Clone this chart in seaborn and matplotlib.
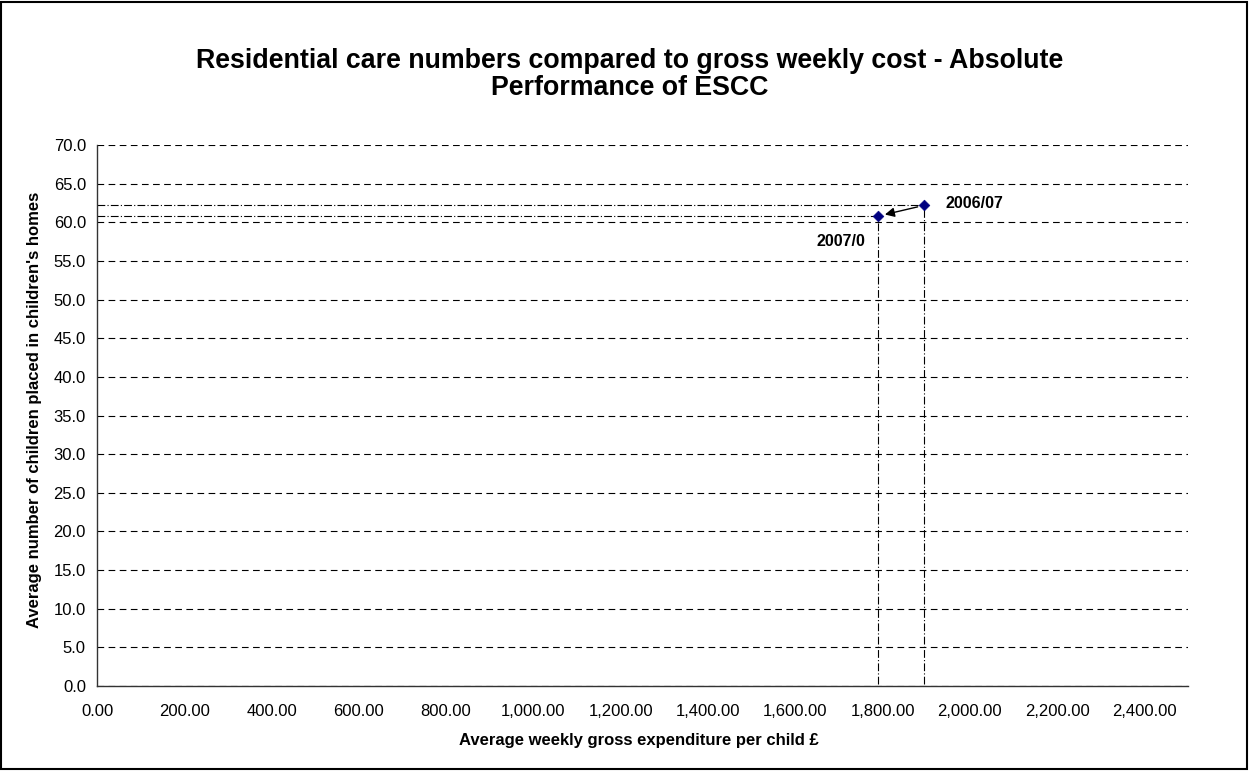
import matplotlib
matplotlib.use("Agg")
import matplotlib.pyplot as plt
import matplotlib.patches as patches
from matplotlib.ticker import FuncFormatter, MultipleLocator
import seaborn as sns
import pandas as pd

# Dados
anos = ["2006/07", "2007/08"]
custo_semanal = [1896, 1790]
num_criancas = [62.2, 60.8]
rotulos = ["2006/07", "2007/0"]

TITULO_1 = "Residential care numbers compared to gross weekly cost - Absolute"
TITULO_2 = "Performance of ESCC"
XLABEL = "Average weekly gross expenditure per child £"
YLABEL = "Average number of children placed in children's homes"

sns.set_style("white")
plt.rcParams["font.family"] = ["Liberation Sans", "DejaVu Sans"]
plt.rcParams["text.color"] = "black"
plt.rcParams["axes.labelcolor"] = "black"
plt.rcParams["xtick.color"] = "black"
plt.rcParams["ytick.color"] = "black"

df = pd.DataFrame({"ano": anos, "custo": custo_semanal, "num": num_criancas})

fig = plt.figure(figsize=(12.51, 7.71), dpi=100)
ax = fig.add_axes([97 / 1251, 85 / 771, 1091 / 1251, 541 / 771])

# linhas de referência (traço-ponto) até os eixos
for x, y in zip(custo_semanal, num_criancas):
    ax.plot([0, x], [y, y], color="black", lw=0.8, ls=(0, (7, 2, 1, 2)), zorder=2)
    ax.plot([x, x], [0.3, y], color="black", lw=0.8, ls=(0, (7, 2, 1, 2)), zorder=2)

sns.scatterplot(data=df, x="custo", y="num", marker="D", color="#000080",
                edgecolor="#000080", s=30, ax=ax, zorder=4, legend=False)

# seta de 2006/07 para 2007/08
ax.annotate("", xy=(custo_semanal[1], num_criancas[1]),
            xytext=(custo_semanal[0], num_criancas[0]),
            arrowprops=dict(arrowstyle="-|>", color="black", lw=1.0,
                            shrinkA=5, shrinkB=5, mutation_scale=14), zorder=3)

ax.annotate(rotulos[0], xy=(custo_semanal[0], num_criancas[0]), xytext=(15, 1.5),
            textcoords="offset points", fontsize=11.5, fontweight="bold",
            ha="left", va="center")
ax.annotate(rotulos[1], xy=(custo_semanal[1], num_criancas[1]), xytext=(-27, -18),
            textcoords="offset points", fontsize=11.5, fontweight="bold",
            ha="center", va="center")

ax.set_xlim(0, 2500)
ax.set_ylim(0, 70)
ax.xaxis.set_major_locator(MultipleLocator(200))
ax.yaxis.set_major_locator(MultipleLocator(5))
ax.xaxis.set_major_formatter(FuncFormatter(lambda v, p: f"{v:,.2f}"))
ax.yaxis.set_major_formatter(FuncFormatter(lambda v, p: f"{v:.1f}"))

ax.yaxis.grid(True, color="black", lw=0.8, ls=(0, (6, 4)))
ax.xaxis.grid(False)
ax.set_axisbelow(True)

for s in ["top", "right"]:
    ax.spines[s].set_visible(False)
for s in ["left", "bottom"]:
    ax.spines[s].set_color("#333333")
    ax.spines[s].set_linewidth(1.0)

ax.tick_params(axis="x", direction="out", length=5, width=0.8, color="#333333",
               labelsize=12, pad=8)
ax.tick_params(axis="y", direction="inout", length=8, width=0.8, color="#333333",
               labelsize=12, pad=4)
ax.set_xlabel(XLABEL, fontsize=12, fontweight="bold")
ax.set_ylabel(YLABEL, fontsize=12, fontweight="bold", va="center")
ax.xaxis.set_label_coords((639 - 97) / 1091, -(740 - 686) / 541)
ax.yaxis.set_label_coords((35 - 97) / 1091, (686 - 410) / 541)
ax.xaxis.label.set_va("center")

fig.text(630 / 1251, 1 - 68 / 771, TITULO_1, ha="center", va="baseline",
         fontsize=19.3, fontweight="bold")
fig.text(630 / 1251, 1 - 95 / 771, TITULO_2, ha="center", va="baseline",
         fontsize=19.3, fontweight="bold")

# borda da figura
fig.patches.append(patches.Rectangle((0.001, 0.002), 0.996, 0.995, transform=fig.transFigure,
                                     fill=False, edgecolor="black", lw=1.5))

fig.savefig("out.png", dpi=100)
